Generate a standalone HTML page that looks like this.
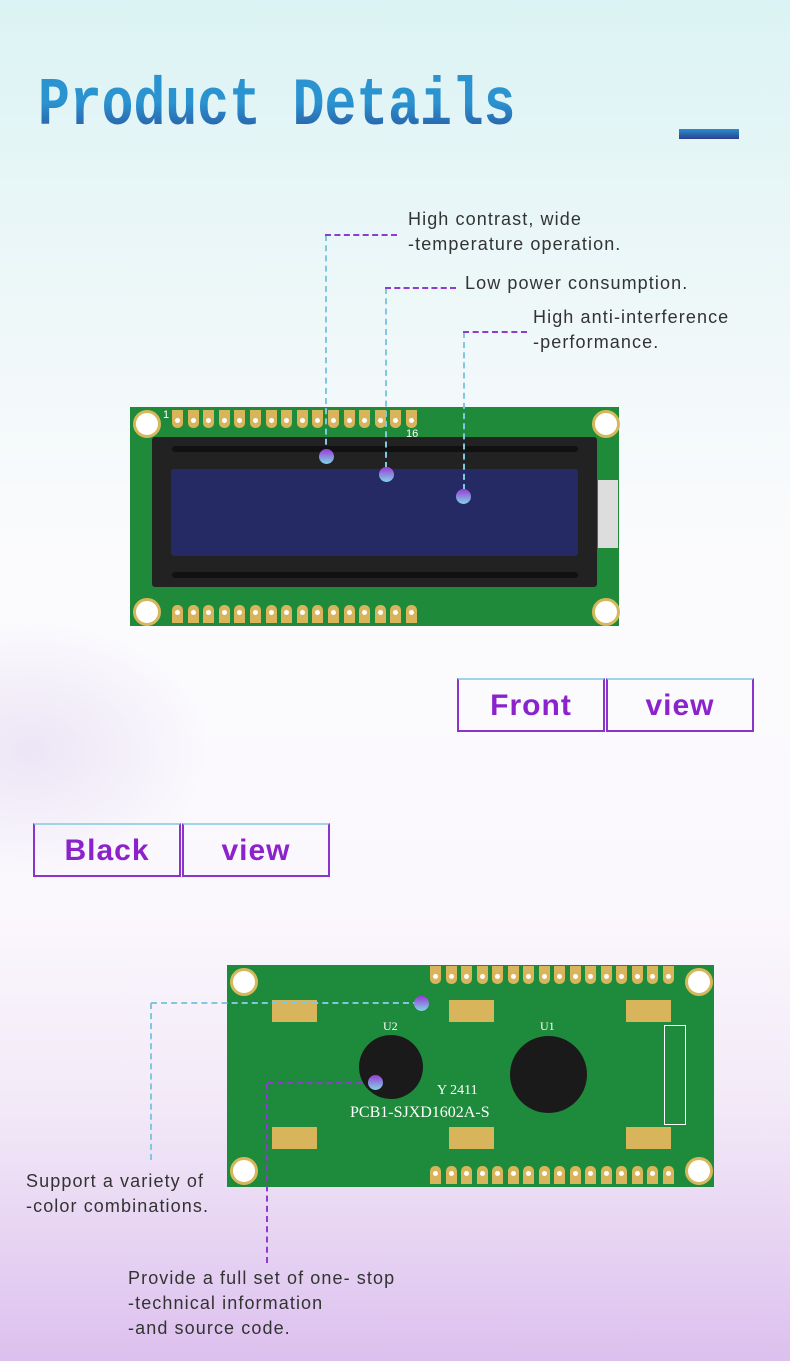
<!DOCTYPE html>
<html><head><style>
body{margin:0}
#p{position:relative;width:790px;height:1361px;overflow:hidden;font-family:"Liberation Sans",sans-serif;
background:linear-gradient(180deg,#dbf3f4 0px,#e8f6f7 200px,#fbfbfd 550px,#fbf8fd 900px,#f3eaf8 1100px,#dcc0ee 1361px);}
.glow{position:absolute;left:-150px;top:620px;width:360px;height:260px;border-radius:50%;background:radial-gradient(#ece5f6,rgba(240,235,250,0) 70%)}
.t{position:absolute;font-size:18px;color:#333;line-height:25px;letter-spacing:1.1px}
.h{position:absolute;border-top:2px dashed #8e3cd0}
.v{position:absolute;border-left:2px dashed #7fc8e0}
.dot{position:absolute;width:15px;height:15px;border-radius:50%;background:linear-gradient(#9a3ad6,#7fd6e6)}
.btn{position:absolute;height:50px;border:2px solid #8c33c9;border-top-color:#9fd4e6;color:#8c22cc;font-weight:bold;font-size:30px;text-align:center;line-height:52px;letter-spacing:1px}
.pin{position:absolute;width:11px;height:18px;background:#d8b55a;border-radius:0 0 5px 5px}
.pin:after{content:"";position:absolute;left:3px;top:8px;width:5px;height:5px;border-radius:50%;background:#fff}
.hole{position:absolute;width:22px;height:22px;border-radius:50%;background:#fff;border:3px solid #d6b85c}
</style></head><body><div id="p">
<div class="glow"></div>
<div style="position:absolute;left:38px;top:68px;font-family:'Liberation Mono',monospace;font-weight:bold;font-size:68px;letter-spacing:0px;background:linear-gradient(#2a93d0 45%,#2a3f90);-webkit-background-clip:text;color:transparent;transform:scaleX(0.78);transform-origin:left">Product Details</div>
<div style="position:absolute;left:679px;top:129px;width:60px;height:10px;background:linear-gradient(#2a8fcf,#2a3f90)"></div>

<div class="t" style="left:408px;top:207px">High contrast, wide<br>-temperature operation.</div>
<div class="t" style="left:465px;top:271px">Low power consumption.</div>
<div class="t" style="left:533px;top:305px">High anti-interference<br>-performance.</div>

<!-- front LCD -->
<div style="position:absolute;left:130px;top:407px;width:489px;height:219px;background:#1f8a3a;"></div>
<div class="hole" style="left:133px;top:410px"></div><div class="hole" style="left:592px;top:410px"></div>
<div class="hole" style="left:133px;top:598px"></div><div class="hole" style="left:592px;top:598px"></div>
<div id="tp"></div>
<div style="position:absolute;left:598px;top:480px;width:20px;height:68px;background:#ddd"></div>
<div style="position:absolute;left:152px;top:437px;width:445px;height:150px;background:#222;border-radius:3px"></div>
<div style="position:absolute;left:172px;top:446px;width:406px;height:6px;background:#111;border-radius:3px"></div>
<div style="position:absolute;left:172px;top:572px;width:406px;height:6px;background:#111;border-radius:3px"></div>
<div style="position:absolute;left:171px;top:469px;width:407px;height:87px;background:#262a64;border-radius:3px"></div>
<div style="position:absolute;left:163px;top:409px;color:#fff;font-size:11px">1</div>
<div style="position:absolute;left:406px;top:428px;color:#fff;font-size:11px">16</div>

<div class="v" style="left:325px;top:235px;height:220px"></div><div class="h" style="left:325px;top:234px;width:72px"></div><div class="dot" style="left:319px;top:449px"></div>
<div class="v" style="left:385px;top:288px;height:180px"></div><div class="h" style="left:385px;top:287px;width:71px"></div><div class="dot" style="left:379px;top:467px"></div>
<div class="v" style="left:463px;top:332px;height:158px"></div><div class="h" style="left:463px;top:331px;width:64px"></div><div class="dot" style="left:456px;top:489px"></div>

<div class="btn" style="left:457px;top:678px;width:144px">Front</div>
<div class="btn" style="left:606px;top:678px;width:144px">view</div>
<div class="btn" style="left:33px;top:823px;width:144px">Black</div>
<div class="btn" style="left:182px;top:823px;width:144px">view</div>

<!-- back PCB -->
<div style="position:absolute;left:227px;top:965px;width:487px;height:222px;background:#1e8a3c"></div>
<div class="hole" style="left:230px;top:968px"></div><div class="hole" style="left:685px;top:968px"></div>
<div class="hole" style="left:230px;top:1157px"></div><div class="hole" style="left:685px;top:1157px"></div>
<div style="position:absolute;left:359px;top:1035px;width:64px;height:64px;border-radius:50%;background:#1a1a1a"></div>
<div style="position:absolute;left:510px;top:1036px;width:77px;height:77px;border-radius:50%;background:#1a1a1a"></div>
<div style="position:absolute;left:272px;top:1000px;width:45px;height:22px;background:#d8b55a"></div>
<div style="position:absolute;left:449px;top:1000px;width:45px;height:22px;background:#d8b55a"></div>
<div style="position:absolute;left:626px;top:1000px;width:45px;height:22px;background:#d8b55a"></div>
<div style="position:absolute;left:272px;top:1127px;width:45px;height:22px;background:#d8b55a"></div>
<div style="position:absolute;left:449px;top:1127px;width:45px;height:22px;background:#d8b55a"></div>
<div style="position:absolute;left:626px;top:1127px;width:45px;height:22px;background:#d8b55a"></div>
<div style="position:absolute;left:350px;top:1104px;color:#fff;font-family:'Liberation Serif',serif;font-size:16px">PCB1-SJXD1602A-S</div>
<div style="position:absolute;left:437px;top:1083px;color:#fff;font-family:'Liberation Serif',serif;font-size:14px">Y 2411</div>
<div style="position:absolute;left:383px;top:1019px;color:#fff;font-family:'Liberation Serif',serif;font-size:12px">U2</div>
<div style="position:absolute;left:540px;top:1019px;color:#fff;font-family:'Liberation Serif',serif;font-size:12px">U1</div>
<div style="position:absolute;left:664px;top:1025px;width:20px;height:98px;border:1px solid #fff"></div>
<div id="bp"></div>

<div class="h" style="left:151px;top:1002px;width:268px;border-top-color:#7fc8e0"></div><div class="v" style="left:150px;top:1003px;height:157px"></div><div class="dot" style="left:414px;top:996px"></div>
<div class="h" style="left:267px;top:1082px;width:95px"></div><div class="v" style="left:266px;top:1083px;height:180px;border-left-color:#8e3cd0"></div><div class="dot" style="left:368px;top:1075px"></div>

<div class="t" style="left:26px;top:1169px">Support a variety of<br>-color combinations.</div>
<div class="t" style="left:128px;top:1266px">Provide a full set of one- stop<br>-technical information<br>-and source code.</div>
</div>
<script>
var tp=document.getElementById('tp'),h='';
for(var i=0;i<16;i++){h+='<div class="pin" style="left:'+(172+i*15.6)+'px;top:410px"></div>';h+='<div class="pin" style="left:'+(172+i*15.6)+'px;top:605px;transform:rotate(180deg)"></div>';}
tp.outerHTML=h;
var bp=document.getElementById('bp');h='';
for(var i=0;i<16;i++){h+='<div class="pin" style="left:'+(430+i*15.5)+'px;top:966px"></div>';h+='<div class="pin" style="left:'+(430+i*15.5)+'px;top:1166px;transform:rotate(180deg)"></div>';}
bp.outerHTML=h;
</script>
</body></html>
